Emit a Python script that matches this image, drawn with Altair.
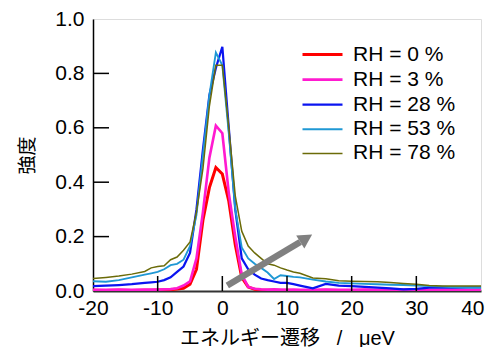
import altair as alt
import pandas as pd

# ---- data ----
x_vals = [-20, -18, -16, -14, -12, -11, -10, -9, -8, -7, -6, -5, -4, -3, -2, -1,
          0, 1, 2, 3, 4, 5, 6, 7, 8, 9, 10, 11, 12,
          14, 16, 18, 20, 22, 24, 26, 28, 30, 32, 34, 36, 38, 40]

rh0 = [0.003, 0.002, 0.003, 0.002, 0.003, 0.003, 0.004, 0.004, 0.005, 0.007, 0.010, 0.025, 0.080, 0.260, 0.380, 0.454,
       0.430, 0.330, 0.170, 0.050, 0.015, 0.006, 0.004, 0.003, 0.003, 0.002, 0.003, 0.002, 0.002,
       0.002, 0.003, 0.002, 0.002, 0.003, 0.002, 0.002, 0.002, 0.003, 0.002, 0.002, 0.002, 0.002, 0.002]
rh3 = [0.004, 0.004, 0.005, 0.004, 0.005, 0.005, 0.005, 0.006, 0.007, 0.010, 0.020, 0.035, 0.120, 0.290, 0.490, 0.608,
       0.580, 0.360, 0.200, 0.060, 0.015, 0.008, 0.006, 0.005, 0.006, 0.005, 0.004, 0.005, 0.004,
       0.004, 0.005, 0.004, 0.004, 0.005, 0.004, 0.004, 0.005, 0.004, 0.004, 0.004, 0.004, 0.003, 0.003]
rh28 = [0.018, 0.020, 0.022, 0.025, 0.030, 0.032, 0.034, 0.040, 0.050, 0.070, 0.090, 0.140, 0.300, 0.520, 0.720, 0.820,
        0.898, 0.600, 0.300, 0.120, 0.080, 0.060, 0.046, 0.040, 0.035, 0.030, 0.030, 0.025, 0.020,
        0.010, 0.026, 0.020, 0.018, 0.015, 0.012, 0.010, 0.006, 0.008, 0.012, 0.013, 0.012, 0.013, 0.013]
rh53 = [0.036, 0.034, 0.040, 0.050, 0.060, 0.065, 0.070, 0.080, 0.095, 0.100, 0.115, 0.165, 0.280, 0.500, 0.720, 0.877,
        0.830, 0.580, 0.300, 0.160, 0.120, 0.100, 0.085, 0.068, 0.044, 0.058, 0.055, 0.052, 0.050,
        0.042, 0.035, 0.030, 0.028, 0.026, 0.025, 0.023, 0.022, 0.020, 0.018, 0.016, 0.014, 0.013, 0.013]
rh78 = [0.046, 0.050, 0.055, 0.062, 0.072, 0.085, 0.090, 0.093, 0.115, 0.125, 0.150, 0.180, 0.290, 0.450, 0.680, 0.830,
        0.830, 0.600, 0.350, 0.220, 0.165, 0.140, 0.120, 0.100, 0.095, 0.085, 0.077, 0.070, 0.065,
        0.048, 0.045, 0.038, 0.036, 0.035, 0.034, 0.031, 0.028, 0.025, 0.020, 0.018, 0.018, 0.018, 0.018]

series_names = ["RH = 0 %", "RH = 3 %", "RH = 28 %", "RH = 53 %", "RH = 78 %"]
series_colors = ["#ff0000", "#ff1ad0", "#0a14f0", "#1f98d4", "#6b6b08"]
series_widths = [3, 1.5, 1.5, 1.5, 1.5]

x_ticks = [-20, -10, 0, 10, 20, 30, 40]
y_ticks = [0.0, 0.2, 0.4, 0.6, 0.8, 1.0]
inner_x_ticks = [-10, 0, 10, 20, 30]
inner_y_ticks = [0.2, 0.4, 0.6, 0.8]

arrow_x = [0.77, 12.05]
arrow_y = [0.02, 0.18]

x_title = "エネルギー遷移\u00a0\u00a0\u00a0/\u00a0\u00a0\u00a0μeV"
y_title = "強度"

# ---- tables ----
rows = []
for order, (name, ys) in enumerate(zip(series_names, [rh0, rh3, rh28, rh53, rh78])):
    for i, (xv, yv) in enumerate(zip(x_vals, ys)):
        rows.append({"series": name, "order": order, "x": xv, "y": yv, "i": i})
df = pd.DataFrame(rows)

W, H = 388, 272
font = "Liberation Sans, Arial, Noto Sans CJK JP"

xscale = alt.Scale(domain=[-20, 40], nice=False, zero=False)
yscale = alt.Scale(domain=[0, 1], nice=False)

legend_cfg = dict(title=None, orient="none", legendX=218, legendY=24,
                  symbolType="M-2,0L2,0", symbolSize=400, labelFontSize=21,
                  labelFont=font, labelColor="black", labelOffset=19,
                  rowPadding=3.1, padding=0)

last_x = x_ticks[-1]
lines = alt.Chart(df).mark_line(clip=True).encode(
    x=alt.X("x:Q", scale=xscale,
            axis=alt.Axis(values=x_ticks, tickSize=0, labelPadding=6, labelFontSize=21,
                          labelExpr="'' + datum.value",
                          labelAlign={"condition": {"test": f"datum.value == {last_x}", "value": "right"},
                                      "value": "center"},
                          labelOffset={"condition": {"test": f"datum.value == {last_x}", "value": 3},
                                       "value": 0},
                          labelFont=font, labelColor="black", domainColor="#333333", domainWidth=2,
                          grid=False, title=x_title, titleFont=font, titleFontSize=20,
                          titleFontWeight="normal", titleColor="black", titlePadding=10,
                          labelFlush=False)),
    y=alt.Y("y:Q", scale=yscale,
            axis=alt.Axis(values=y_ticks, format=".1f", tickSize=0, labelPadding=9, labelFontSize=21,
                          labelFont=font, labelColor="black", domainColor="black", domainWidth=1.5,
                          grid=False, title=y_title, titleFont=font, titleFontSize=19,
                          titleFontWeight="normal", titleColor="black", titlePadding=17)),
    color=alt.Color("series:N", scale=alt.Scale(domain=series_names, range=series_colors),
                    legend=alt.Legend(**legend_cfg)),
    strokeWidth=alt.StrokeWidth("series:N", scale=alt.Scale(domain=series_names, range=series_widths),
                                legend=alt.Legend(**legend_cfg)),
    order=alt.Order("i:Q"),
)

xt = pd.DataFrame({"x": inner_x_ticks})
x_tick_marks = alt.Chart(xt).mark_rule(color="black", strokeWidth=1.5).encode(
    x=alt.X("x:Q", scale=xscale), y=alt.value(H), y2=alt.value(H - 15))

yt = pd.DataFrame({"y": inner_y_ticks})
y_tick_marks = alt.Chart(yt).mark_rule(color="black", strokeWidth=1.5).encode(
    y=alt.Y("y:Q", scale=yscale), x=alt.value(0), x2=alt.value(16))

arr = pd.DataFrame({"x": arrow_x, "y": arrow_y, "k": [0, 1]})
arrow_line = alt.Chart(arr).mark_line(color="#808080", strokeWidth=6.5, strokeCap="butt").encode(
    x=alt.X("x:Q", scale=xscale), y=alt.Y("y:Q", scale=yscale), order="k:Q")
arrow_head = alt.Chart(arr.iloc[[1]]).mark_point(
    shape="M0,-1L0.55,0L-0.55,0Z", filled=True, color="#808080", opacity=1,
    size=784, angle=58).encode(
    x=alt.X("x:Q", scale=xscale), y=alt.Y("y:Q", scale=yscale))

chart = alt.layer(lines, x_tick_marks, y_tick_marks, arrow_line, arrow_head).properties(
    width=W, height=H,
    autosize=alt.AutoSizeParams(type="none"),
    padding={"left": 85, "top": 11, "right": 4, "bottom": 56},
).configure_view(stroke="black", strokeWidth=1.2).configure(background="white")

chart.save("out.html", embed_options={"renderer": "svg", "actions": False})
